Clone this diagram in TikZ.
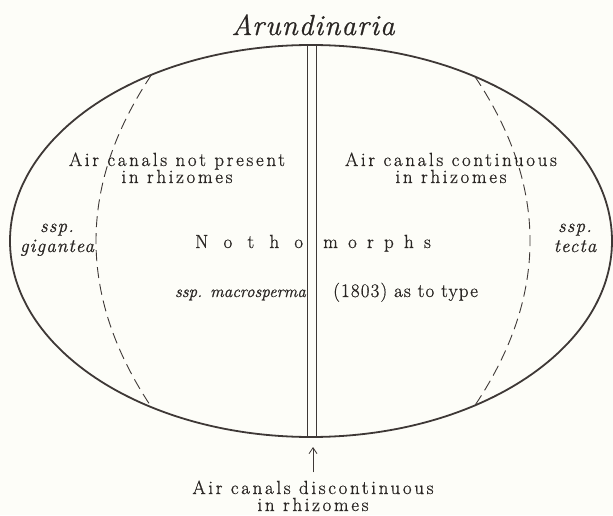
\documentclass[tikz,border=0pt]{standalone}
\usepackage{fontspec}
\setmainfont{Latin Modern Roman}[FakeBold=0.8]
\usepackage{xcolor}
\definecolor{paper}{HTML}{FDFDF8}
\definecolor{ink}{HTML}{3E3836}
\definecolor{inktext}{HTML}{2A2624}
\usepackage{tikz}
\usetikzlibrary{arrows.meta, calc}
\tikzset{
  rim/.style   ={draw=ink, line width=1.8pt},
  divide/.style={draw=ink, line width=0.9pt},
  bound/.style ={draw=ink, line width=0.9pt, dash pattern=on 11pt off 6pt},
  lbl/.style   ={font=\fontsize{19}{17}\selectfont\addfontfeatures{LetterSpace=14}, text=inktext, align=center, inner sep=0pt},
  sublbl/.style={font=\fontsize{19}{20}\selectfont\itshape\addfontfeatures{LetterSpace=6}, text=inktext, align=center, inner sep=0pt},
  ttl/.style   ={font=\fontsize{29}{30}\selectfont\itshape\addfontfeatures{LetterSpace=4}, text=inktext, inner sep=0pt},
  spread/.style={font=\fontsize{19}{20}\selectfont\addfontfeatures{LetterSpace=#1}, text=inktext, inner sep=0pt},
  parr/.style  ={-{Straight Barb[length=6pt, width=8pt]}, draw=ink, line width=0.8pt},
}

\begin{document}
\begin{tikzpicture}[x=1pt, y=1pt]
  % papier
  \fill[paper] (0,0) rectangle (613,515);
  \coordinate (c) at (311,274);
  % ellips en scheidingslijnen
  \draw[rim] (c) ellipse [x radius=301pt, y radius=196pt];
  \draw[divide] (307,78) -- (307,470);
  \draw[divide] (316,78) -- (316,470);
  \draw[bound] ($(c)+(122:301pt and 196pt)$) .. controls (77.5,329.4) and (77.5,218.6) .. ($(c)+(238:301pt and 196pt)$);
  \draw[bound] ($(c)+(57:301pt and 196pt)$) .. controls (548.4,328.8) and (548.4,219.2) .. ($(c)+(-57:301pt and 196pt)$);
  % titel
  \node[ttl, anchor=base] (title) at (313,480) {Arundinaria};
  % teksten binnen
  \node[lbl, anchor=base] (absent) at (177,332) {Air canals not present\\in rhizomes};
  \node[lbl, anchor=base] (cont)   at (451,332) {Air canals continuous\\in rhizomes};
  \node[sublbl, anchor=base] (gig) at (57,263)  {ssp.\\gigantea};
  \node[sublbl, anchor=base] (tec) at (575,263) {ssp.\\tecta};
  \node[spread=80, anchor=base west] (notho)  at (195,267) {Notho};
  \node[spread=54, anchor=base west] (morphs) at (323,267) {morphs};
  \node[font=\fontsize{17}{20}\selectfont\itshape, text=inktext, inner sep=0pt, anchor=base east] (macro) at (306,218) {ssp. macrosperma};
  \node[spread=6, anchor=base west] (type) at (333,218) {(1803) as to type};
  % onder
  \node[lbl, anchor=base] (disc) at (313,4) {Air canals discontinuous\\in rhizomes};
  \coordinate (tip) at (313,68);
  \draw[parr] ([yshift=8pt]disc.north) -- (tip);
\end{tikzpicture}
\end{document}
